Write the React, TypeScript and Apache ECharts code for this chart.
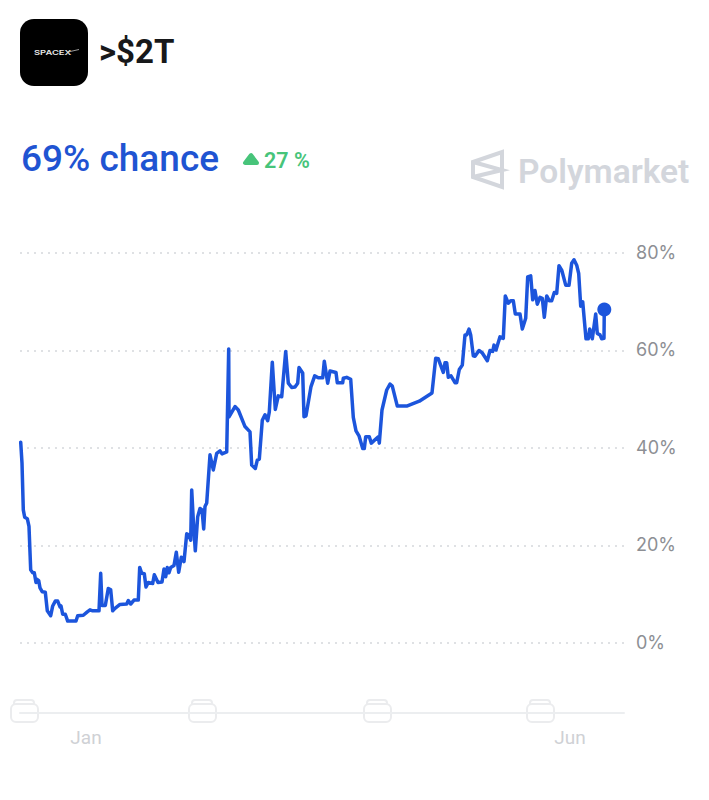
import React, { useEffect, useRef } from "react";
import * as echarts from "echarts";

// x unit: one sample step from the start of the chart's time range
const steps = [0.7,2,3.3,4.7,7.3,9,10.7,12.7,14.3,16,16.7,18.7,20,22.3,25.3,27.3,30.7,32.7,35.3,37.7,40,41,42.7,45.3,47.7,56,57.7,63.3,67.3,70,72.7,79,80.7,82,85.3,88.3,90.7,92.7,95,100,106.7,108.3,110.7,114,118.3,119.7,121.7,124.3,126,128.3,132.7,134.3,138,142,144,145.7,147.3,149,150.7,154,156.3,158.7,161.3,164,166.7,168.7,170.7,171.7,173.3,175.3,177.7,180,182,183.7,185,186.7,190,193.3,196.7,200,202,206.7,208.7,209,215,218.3,225,230,231.7,235.3,237.3,239.3,242.3,245,247.7,249.3,252.3,255.3,258.3,261.7,265.7,268.3,271.7,275,277.7,279,282.7,284,286,291,294.7,298.3,302.7,304.3,307.7,310,316,317.3,322.7,323.3,326.7,330.7,333.3,336,339,342.7,344.3,345.7,349.3,351.3,358.3,359.3,362,366.7,370,372.3,377.3,386.7,399.3,412,415.7,418.3,423.3,425,426.7,428.3,431,435,436.7,439.3,442.3,445,446.7,449,450.7,453.3,455,459,462.3,467.3,470,472.7,474,476,480,483.3,485.3,488.3,490.7,493.3,495.3,500,502.3,505.7,507.7,510.7,512.7,515,517.3,520,522.3,524.3,526.7,529.3,531.7,534.3,536.7,539,541.7,545.7,549,551.7,554,556.7,558.7,560.7,562.7,566,568.3,569.7,572.3,575.7,577.3,580,581.7,584,584.3];
const chance = [41.2,36.9,27.3,25.8,25.5,23.9,15,14.4,14.4,12.4,13.1,12.8,11.3,10.5,10.4,6.6,5.6,7.6,8.6,8.6,7.4,7.6,5.9,5.9,4.5,4.5,5.6,5.7,6.4,6.8,6.6,6.6,14.3,7.7,7.7,11.2,10.9,6.6,7.1,7.9,8,8.7,8,8.8,8.8,15.5,14.3,14.2,11.5,12.4,12.2,14,12.4,12.5,15.2,13.6,15.5,14.4,15.5,15.9,18.6,14.5,17.6,16.7,22.4,22.2,21.1,31.4,25.2,18.9,25.9,27.6,27.3,23.4,28,28.7,38.6,35.5,38.9,39.4,38.8,39.2,60.3,46.4,48.5,47.8,44.4,43.3,36.5,35.8,37.5,37.7,45.7,46.8,45.6,47.4,57.6,47.9,50.7,50.5,59.8,53.3,52.4,52.5,53.3,56.5,55.4,46.4,46.6,52.6,54.8,54.4,54.4,57.8,53.3,55.8,55.5,53.4,53.4,54.3,54.5,54.1,46.3,43.5,42.5,39.9,39.9,42.3,42.3,41,42.3,41,47.8,51.9,53.1,52.7,48.6,48.6,49.6,51.3,58.4,58.3,55.5,57.5,57.5,54.5,54.8,53.4,53.4,56.1,57,63.2,63.2,64.4,63.2,58.9,58.8,60,59.5,57.9,60,59.8,61.1,60.1,62.8,62.5,71.2,69.7,70.2,70.2,67.5,67.5,64.4,66.6,75.1,75.3,70.4,72.3,69.5,70.9,70.7,66.8,71.2,70.2,70.2,71.9,71.7,77.4,76.5,73.4,73.4,77.9,78.6,77.5,75.8,69.1,70,62.4,62.4,64.4,62.4,67.5,63.5,63.2,62.4,62.5,68.4];
const monthTicks = [66, 550];
const monthNames = ["Jan", "Jun"];
const font = "Inter, 'Noto Sans', sans-serif";
const headFont = "Roboto, 'Noto Sans', sans-serif";
const blue = "#1c55dc";
const logoGrey = "#d3d6dc";

const calendarIcon = (x: number) => ({
  type: "group",
  x,
  y: 699,
  z: 20,
  children: [
    { type: "rect", shape: { x: 4, y: 1, width: 20, height: 8, r: 3 }, style: { fill: "#fff", stroke: "#ebecee", lineWidth: 2 } },
    { type: "rect", shape: { x: 1, y: 5, width: 27, height: 18, r: 5 }, style: { fill: "#fff", stroke: "#ebecee", lineWidth: 2 } },
  ],
});

export default function App() {
  const ref = useRef<HTMLDivElement>(null);
  useEffect(() => {
    const chart = echarts.init(ref.current!, null, { renderer: "svg" });
    chart.setOption({
      animation: false,
      backgroundColor: "#fff",
      grid: { left: 20, top: 253, width: 604, height: 487.5 },
      xAxis: {
        type: "value",
        min: 0,
        max: 604,
        offset: -27.5,
        splitLine: { show: false },
        axisTick: { show: false },
        axisLine: { show: true, onZero: false, lineStyle: { color: "#eceef0", width: 2 } },
        axisLabel: {
          customValues: monthTicks,
          formatter: (v: number) => monthNames[monthTicks.indexOf(v)] ?? "",
          color: "#cfd1d5",
          fontSize: 19,
          fontFamily: headFont,
          margin: 15,
        },
      },
      yAxis: {
        type: "value",
        min: -20,
        max: 80,
        interval: 20,
        position: "right",
        axisLine: { show: false },
        axisTick: { show: false },
        axisLabel: {
          formatter: (v: number) => (v < 0 ? "" : `${v}%`),
          color: "#8d8f94",
          fontSize: 18,
          fontFamily: font,
          margin: 12,
          verticalAlign: "bottom",
          lineHeight: 20,
          padding: [0, 0, -9, 0],
        },
        splitLine: {
          show: true,
          showMinLine: false,
          lineStyle: { color: "#dfe1e4", width: 2, type: [2, 5] },
        },
      },
      series: [
        {
          type: "line",
          data: steps.map((s, i) => [s, chance[i]]),
          showSymbol: false,
          smooth: false,
          lineStyle: { color: blue, width: 3.5, join: "round", cap: "round" },
          itemStyle: { color: blue },
          clip: false,
        },
        {
          type: "scatter",
          data: [[steps[steps.length - 1], chance[chance.length - 1]]],
          symbolSize: 14,
          itemStyle: { color: blue, opacity: 1 },
          z: 5,
        },
      ],
      graphic: [
        { type: "rect", shape: { x: 20, y: 19, width: 68, height: 67, r: 14 }, style: { fill: "#000" } },
        { type: "text", x: 34, y: 53, scaleX: 1.45, style: { text: "SPACEX", fill: "#e8e8e8", font: `600 6.5px ${font}`, align: "left", verticalAlign: "middle" } },
        { type: "line", shape: { x1: 68, y1: 52, x2: 79, y2: 49.5 }, style: { stroke: "#ddd", lineWidth: 0.7 } },
        { type: "text", x: 99, y: 51, style: { text: ">$2T", fill: "#17181a", font: `700 33px ${headFont}`, verticalAlign: "middle" } },
        { type: "text", x: 21, y: 158, style: { text: "69% chance", fill: "#1f54d2", font: `500 37px ${headFont}`, verticalAlign: "middle" } },
        { type: "polygon", shape: { points: [[251, 155], [245, 163], [257, 163]] }, style: { fill: "#47c47a", stroke: "#47c47a", lineWidth: 4, lineJoin: "round" } },
        { type: "text", x: 264, y: 160, style: { text: "27 %", fill: "#47c47a", font: `600 21.5px ${headFont}`, verticalAlign: "middle" } },
        { type: "polygon", shape: { points: [[473, 162], [502, 152], [502, 187], [473, 177]] }, style: { fill: "none", stroke: logoGrey, lineWidth: 4 } },
        { type: "polyline", shape: { points: [[473, 162], [502, 170], [473, 177]] }, style: { fill: "none", stroke: logoGrey, lineWidth: 4 } },
        { type: "text", x: 518, y: 171, style: { text: "Polymarket", fill: logoGrey, font: `600 33.5px ${headFont}`, verticalAlign: "middle" } },
        calendarIcon(10),
        calendarIcon(188),
        calendarIcon(363),
        calendarIcon(526),
      ],
    });
    return () => chart.dispose();
  }, []);
  return <div ref={ref} style={{ position: "absolute", left: 0, top: 0, width: 709, height: 800 }} />;
}
